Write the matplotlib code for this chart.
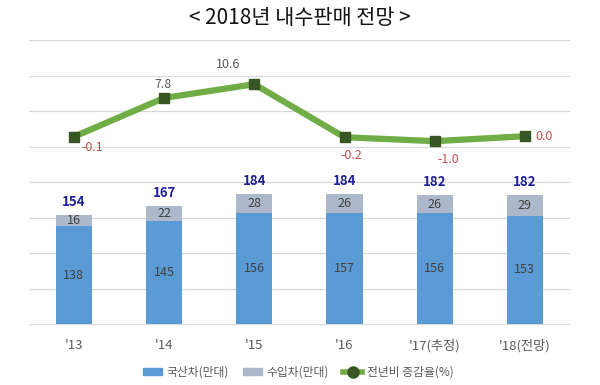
import matplotlib
matplotlib.use("Agg")
import matplotlib.pyplot as plt
from matplotlib.lines import Line2D
from matplotlib.patches import Patch

plt.rcParams['font.family'] = ['Noto Sans CJK KR', 'DejaVu Sans']

years = ["'13", "'14", "'15", "'16", "'17(추정)", "'18(전망)"]
domestic = [138, 145, 156, 157, 156, 153]
imported = [16, 22, 28, 26, 26, 29]
totals = [154, 167, 184, 184, 182, 182]
growth = [-0.1, 7.8, 10.6, -0.2, -1.0, 0.0]
growth_text = ['-0.1', '7.8', '10.6', '-0.2', '-1.0', '0.0']

c_dom = '#5B9BD5'
c_imp = '#ADB9CA'
c_line = '#70AD47'
c_mark = '#375623'

fig = plt.figure(figsize=(6, 3.85), dpi=100)
ax = fig.add_axes([0.048, 0.154, 0.902, 0.742])

x = list(range(len(years)))
ax.bar(x, domestic, width=0.4, color=c_dom, zorder=2)
ax.bar(x, imported, width=0.4, bottom=domestic, color=c_imp, zorder=2)

for i in x:
    ax.text(i, domestic[i] / 2, str(domestic[i]), ha='center', va='center',
            fontsize=9, color='#404040', zorder=3)
    ax.text(i, domestic[i] + imported[i] / 2, str(imported[i]), ha='center',
            va='center', fontsize=9, color='#404040', zorder=3)
    ax.annotate(str(totals[i]), (i, totals[i]), xytext=(0, 4),
                textcoords='offset points', ha='center', va='bottom',
                fontsize=9.5, fontweight='bold', color='#1F1F9A', zorder=3)

ax.set_xlim(-0.5, 5.5)
ax.set_ylim(-2, 400)
ax.set_yticks(range(0, 401, 50))
ax.yaxis.grid(True, color='#D9D9D9', lw=0.9, zorder=0)
ax.set_axisbelow(True)
ax.set_xticks(x)
ax.set_xticklabels(years, fontsize=9.5, color='#595959')
for s in ax.spines.values():
    s.set_visible(False)

ax2 = ax.twinx()
ax2.set_ylim(-38.6, 19.6)
ax2.plot(x, growth, color=c_line, lw=4.5, marker='s', markersize=6.5,
         markerfacecolor=c_mark, markeredgecolor=c_mark, zorder=4,
         solid_joinstyle='round')
ax2.axis('off')

# twinx turns the left ticks back on, so hide them afterwards
ax.tick_params(axis='y', left=False, right=False, labelleft=False)
ax.tick_params(axis='x', bottom=False, pad=6)

offsets = [(13, -8), (-1, 10), (-19, 14), (5, -13), (10, -13), (14, 0)]
for i in x:
    col = '#595959' if growth[i] > 0 else '#C0504D'
    dx, dy = offsets[i]
    ax2.annotate(growth_text[i], (i, growth[i]), xytext=(dx, dy),
                 textcoords='offset points', ha='center', va='center',
                 fontsize=9, color=col)

fig.text(0.5, 0.953, '< 2018년 내수판매 전망 >', ha='center', va='center',
         fontsize=15, color='#111111')

handles = [Patch(color=c_dom), Patch(color=c_imp),
           Line2D([], [], color=c_line, lw=4, marker='o', markersize=8,
                  markerfacecolor=c_mark, markeredgecolor=c_mark)]
fig.legend(handles, ['국산차(만대)', '수입차(만대)', '전년비 증감율(%)'],
           loc='center', bbox_to_anchor=(0.497, 0.034), ncol=3, frameon=False,
           fontsize=8.5, handlelength=1.6, handleheight=0.5, handletextpad=0.4,
           columnspacing=1.2, labelcolor='#595959')

fig.savefig('out.png', dpi=100)
